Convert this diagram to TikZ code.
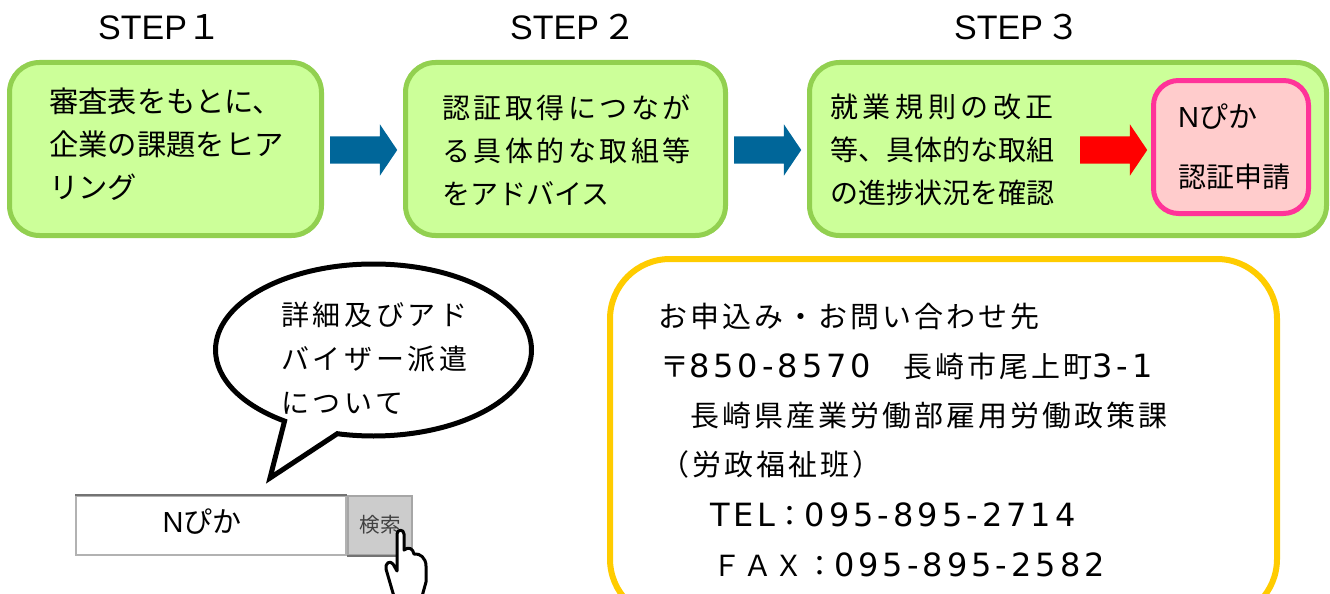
\documentclass[tikz,border=0pt]{standalone}
\usepackage{fontspec}
\setmainfont{Noto Sans CJK JP}
\newfontfamily\latinfont[LetterSpace=12.5]{DejaVu Sans}
\newfontfamily\stepfont{Liberation Sans}
\usetikzlibrary{positioning,shapes.arrows,shapes.callouts}
\definecolor{boxgreen}{HTML}{92D050}
\definecolor{boxfill}{HTML}{CCFF99}
\definecolor{arrowblue}{HTML}{006699}
\definecolor{boxpink}{HTML}{FF3399}
\definecolor{pinkfill}{HTML}{FFCCCC}
\definecolor{boxorange}{HTML}{FFCC00}
\newcommand{\sized}[2]{\fontsize{#1}{#2}\selectfont}
\newcommand{\spacing}[1]{\addfontfeature{LetterSpace=#1}}
\newcommand{\latin}[1]{{\fontsize{32}{35}\latinfont #1}}
\begin{document}
\begin{tikzpicture}[x=1pt,y=-1pt,
  stepbox/.style={draw=boxgreen,fill=boxfill,line width=5pt,rounded corners=30pt,minimum height=173pt,anchor=north west},
  bigarrow/.style={single arrow,fill=arrowblue,minimum height=67pt,inner xsep=0pt,inner ysep=13.5pt,
    single arrow head extend=12pt,single arrow head indent=0pt,single arrow tip angle=112,anchor=west},
  title/.style={font=\sized{34}{38}\stepfont,anchor=west,inner sep=0pt},
  steptext/.style={anchor=west,inner sep=0pt,align=left},
  line/.style={font=\sized{29}{35}\spacing{10.5},anchor=west,inner sep=0pt}]
  \clip (0,0) rectangle (1330,594);
  \useasboundingbox (0,0) rectangle (1330,594);

  \node[title] (TITLEA) at (98,27)  {STEP\rmfamily １};
  \node[title] (TITLEB) at (510,27) {STEP\hspace{3pt}\rmfamily ２};
  \node[title] (TITLEC) at (954,27) {STEP\hspace{3pt}\rmfamily ３};

  \node[stepbox,minimum width=312pt] (BOXA) at (7,60)  {};
  \node[stepbox,minimum width=320pt] (BOXB) at (403,60) {};
  \node[stepbox,minimum width=517pt] (BOXC) at (807,60) {};
  \node[draw=boxpink,fill=pinkfill,line width=5pt,rounded corners=25pt,minimum width=155pt,minimum height=133pt,anchor=north west] (PINK) at (1151,78) {};

  \node[steptext,font=\sized{29.3}{43}] (TEXTA) at (49,144) {審査表をもとに、\\企業の課題をヒア\\リング};
  \node[steptext,font=\sized{28}{43}] (TEXTB) at (442,150) {{\spacing{12.5}認証取得につなが}\\{\spacing{12.5}る具体的な取組等}\\をアドバイス};
  \node[steptext,font=\sized{28}{43}] (TEXTC) at (830,150) {{\spacing{16.5}就業規則の改正}\\等、具体的な取組\\の進捗状況を確認};
  \node[anchor=west,inner sep=0pt,font=\sized{29}{35}] (NPIKA) at (1178,117) {{\fontsize{29}{35}\stepfont N}ぴか};
  \node[anchor=west,inner sep=0pt,font=\sized{28}{35}] (APPLY) at (1178,177) {認証申請};

  \node[bigarrow] (ARROWA) at (330,150) {};
  \node[bigarrow] (ARROWB) at (734,150) {};
  \node[bigarrow,fill=red] (ARROWC) at (1080,150) {};

  % balloon
  \node[ellipse callout,draw=black,fill=white,line width=5pt,minimum width=316pt,minimum height=172pt,
    callout absolute pointer={(270,478)},callout pointer arc=21] (BALLOON) at (373.5,350) {};
  \node[steptext,font=\sized{28}{44}\spacing{13}] (BALLOONTEXT) at (281,358) {詳細及びアド\\バイザー派遣\\について};

  % search box
  \node[draw=black!30,fill=white,line width=2pt,minimum width=270pt,minimum height=59pt,anchor=north west] (SEARCH) at (75,495) {};
  \node[draw=black!35,fill=black!20,line width=2pt,minimum width=64pt,minimum height=59pt,anchor=north west] (BUTTON) at (347,495) {};
  \draw[black!55,line width=2.5pt] (SEARCH.north west) -- (SEARCH.north east);
  \draw[black!55,line width=2.5pt] (BUTTON.south west) -- (BUTTON.south east);
  \node[font=\sized{29}{35},inner sep=0pt] (SEARCHTEXT) at (202,522) {{\fontsize{29}{35}\stepfont N}ぴか};
  \node[font=\sized{20.5}{24},text=black!75,inner sep=0pt] (BUTTONTEXT) at (380,525) {検索};
  \draw[fill=white,line width=3pt,line join=round]
    (395,600) -- (386,569) .. controls (385,563) and (390,560) .. (393,564) -- (397,571)
    -- (397,534) .. controls (397,529) and (404,529) .. (404,534) -- (404,550)
    .. controls (409,546) and (413,549) .. (414,554) .. controls (420,553) and (426,558) .. (426,566)
    -- (426,582) -- (421,600) -- cycle;

  % contact
  \node[draw=boxorange,fill=white,line width=6pt,rounded corners=60pt,minimum width=667pt,minimum height=360pt,anchor=north west] (CONTACT) at (607,256) {};
  \node[line] (LINEA) at (658,317) {お申込み・お問い合わせ先};
  \node[line] (LINEB) at (660,366) {〒\latin{850-8570}　長崎市尾上町\latin{3-1}};
  \node[line] (LINEC) at (690,415) {長崎県産業労働部雇用労働政策課};
  \node[line] (LINED) at (660,464) {（労政福祉班）};
  \node[line] (LINEE) at (710,515) {\latin{TEL}：\latin{095-895-2714}};
  \node[line,font=\sized{29}{35}\spacing{7}] (LINEF) at (712,565) {ＦＡＸ：\latin{095-895-2582}};
\end{tikzpicture}
\end{document}
